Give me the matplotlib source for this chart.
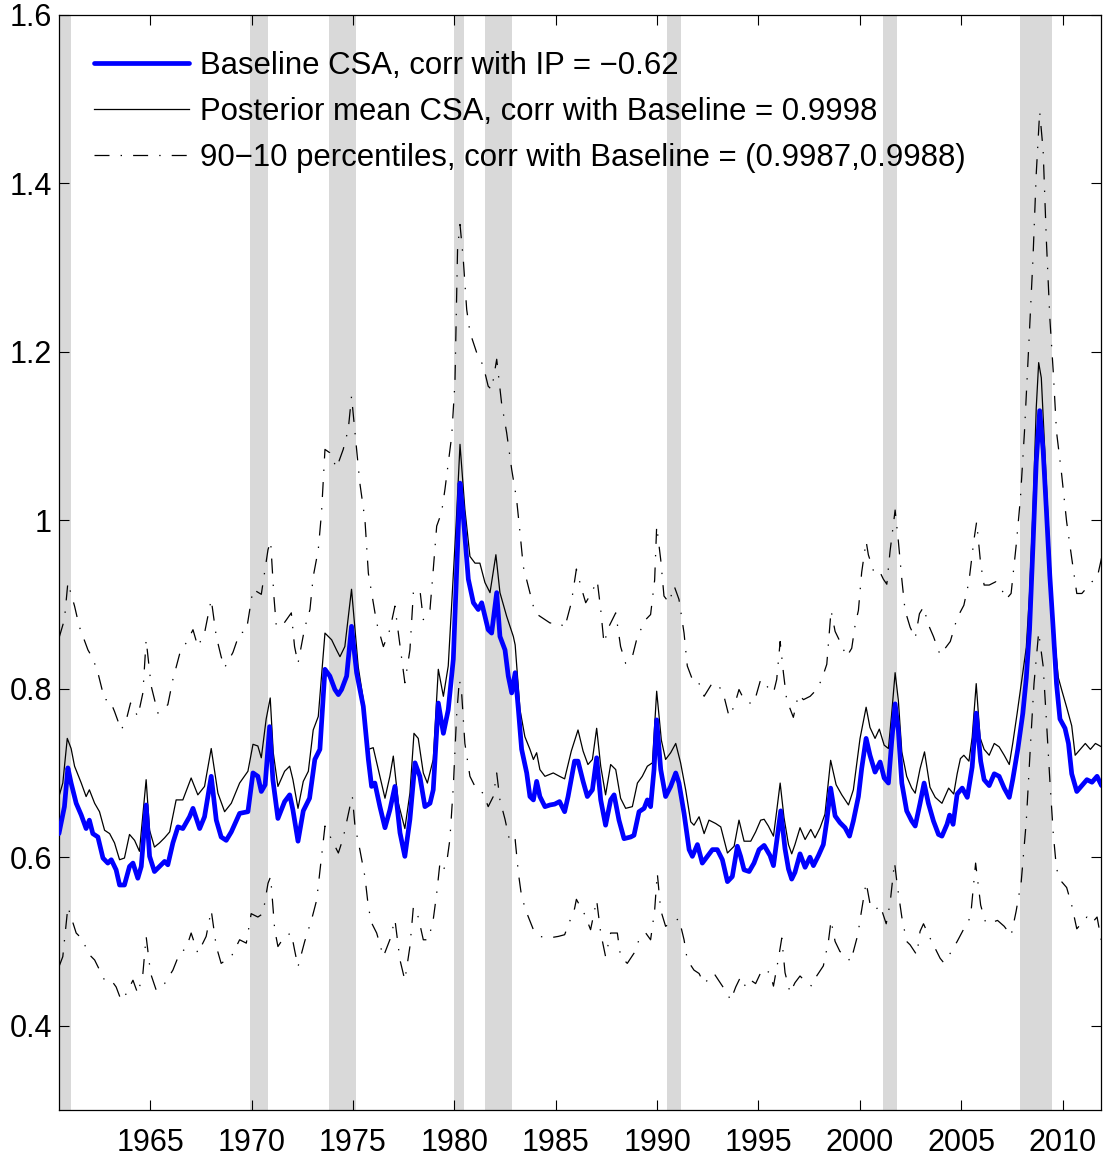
import matplotlib
matplotlib.use("Agg")
import matplotlib.pyplot as plt
from matplotlib.ticker import FuncFormatter

# ---------------- data ----------------
base_t = [1960.50, 1960.77, 1960.94, 1961.10, 1961.35, 1961.60, 1961.84, 1962.00, 1962.17, 1962.42,
          1962.67, 1962.91, 1963.08, 1963.32, 1963.49, 1963.73, 1963.98, 1964.15, 1964.39, 1964.56,
          1964.80, 1964.97, 1965.21, 1965.46, 1965.71, 1965.87, 1966.12, 1966.37, 1966.61, 1966.94,
          1967.11, 1967.44, 1967.68, 1968.01, 1968.26, 1968.50, 1968.75, 1969.00, 1969.41, 1969.82,
          1970.07, 1970.31, 1970.48, 1970.67, 1970.89, 1971.05, 1971.30, 1971.63, 1971.88, 1972.04,
          1972.29, 1972.55, 1972.86, 1973.12, 1973.37, 1973.62, 1973.86, 1974.11, 1974.28, 1974.44,
          1974.69, 1974.93, 1975.18, 1975.51, 1975.76, 1975.92, 1976.08, 1976.33, 1976.58, 1976.82,
          1977.07, 1977.32, 1977.56, 1977.81, 1978.06, 1978.30, 1978.55, 1978.80, 1978.96, 1979.21,
          1979.46, 1979.70, 1979.95, 1980.10, 1980.28, 1980.44, 1980.69, 1980.94, 1981.18, 1981.35,
          1981.51, 1981.67, 1981.84, 1982.09, 1982.25, 1982.50, 1982.66, 1982.83, 1983.00, 1983.16,
          1983.32, 1983.57, 1983.73, 1983.90, 1984.06, 1984.22, 1984.47, 1984.72, 1984.95, 1985.19,
          1985.44, 1985.61, 1985.93, 1986.10, 1986.35, 1986.56, 1986.81, 1987.02, 1987.22, 1987.46,
          1987.71, 1987.88, 1988.12, 1988.37, 1988.70, 1988.86, 1989.11, 1989.36, 1989.52, 1989.68,
          1989.85, 1989.98, 1990.18, 1990.42, 1990.67, 1990.92, 1991.08, 1991.33, 1991.58, 1991.74,
          1991.99, 1992.23, 1992.48, 1992.73, 1992.97, 1993.22, 1993.47, 1993.71, 1993.96, 1994.12,
          1994.29, 1994.54, 1994.78, 1995.03, 1995.28, 1995.57, 1995.74, 1995.90, 1996.10, 1996.31,
          1996.48, 1996.64, 1996.80, 1997.05, 1997.30, 1997.54, 1997.71, 1997.96, 1998.20, 1998.37,
          1998.56, 1998.78, 1999.02, 1999.27, 1999.49, 1999.68, 1999.93, 2000.09, 2000.31, 2000.50,
          2000.75, 2001.00, 2001.20, 2001.41, 2001.57, 2001.74, 2001.90, 2002.07, 2002.31, 2002.56,
          2002.73, 2002.97, 2003.17, 2003.38, 2003.63, 2003.88, 2004.05, 2004.30, 2004.43, 2004.60,
          2004.80, 2005.05, 2005.30, 2005.54, 2005.74, 2005.96, 2006.13, 2006.38, 2006.63, 2006.87,
          2007.12, 2007.37, 2007.54, 2007.79, 2008.04, 2008.21, 2008.37, 2008.54, 2008.70, 2008.87,
          2009.04, 2009.20, 2009.37, 2009.54, 2009.70, 2009.87, 2010.12, 2010.29, 2010.45, 2010.70,
          2010.95, 2011.20, 2011.45, 2011.70, 2011.92]
base_v = [0.628, 0.660, 0.706, 0.688, 0.664, 0.650, 0.634, 0.644, 0.628, 0.624,
          0.599, 0.593, 0.597, 0.585, 0.567, 0.567, 0.589, 0.593, 0.575, 0.589,
          0.662, 0.601, 0.583, 0.589, 0.595, 0.591, 0.617, 0.636, 0.634, 0.648,
          0.658, 0.634, 0.648, 0.696, 0.644, 0.624, 0.620, 0.630, 0.652, 0.654,
          0.700, 0.696, 0.678, 0.686, 0.755, 0.692, 0.646, 0.666, 0.674, 0.656,
          0.619, 0.655, 0.670, 0.716, 0.728, 0.823, 0.815, 0.799, 0.793, 0.799,
          0.815, 0.874, 0.819, 0.779, 0.716, 0.684, 0.688, 0.660, 0.635, 0.656,
          0.684, 0.629, 0.601, 0.645, 0.712, 0.696, 0.660, 0.664, 0.680, 0.783,
          0.747, 0.775, 0.835, 0.930, 1.044, 1.005, 0.930, 0.902, 0.894, 0.902,
          0.886, 0.870, 0.866, 0.914, 0.862, 0.846, 0.815, 0.795, 0.819, 0.775,
          0.728, 0.700, 0.672, 0.668, 0.690, 0.672, 0.660, 0.662, 0.663, 0.666,
          0.654, 0.672, 0.714, 0.714, 0.690, 0.672, 0.680, 0.718, 0.668, 0.638,
          0.668, 0.674, 0.644, 0.622, 0.624, 0.626, 0.654, 0.658, 0.668, 0.660,
          0.704, 0.763, 0.704, 0.672, 0.684, 0.700, 0.688, 0.652, 0.609, 0.601,
          0.615, 0.593, 0.601, 0.609, 0.609, 0.597, 0.571, 0.577, 0.613, 0.601,
          0.585, 0.583, 0.593, 0.609, 0.614, 0.602, 0.590, 0.619, 0.655, 0.610,
          0.586, 0.574, 0.582, 0.604, 0.588, 0.600, 0.590, 0.602, 0.615, 0.643,
          0.682, 0.649, 0.641, 0.635, 0.625, 0.643, 0.672, 0.705, 0.741, 0.721,
          0.701, 0.713, 0.694, 0.688, 0.737, 0.782, 0.750, 0.688, 0.655, 0.643,
          0.637, 0.664, 0.688, 0.664, 0.643, 0.627, 0.625, 0.639, 0.650, 0.639,
          0.675, 0.682, 0.671, 0.707, 0.771, 0.714, 0.692, 0.685, 0.699, 0.696,
          0.682, 0.671, 0.692, 0.728, 0.771, 0.813, 0.870, 0.970, 1.069, 1.130,
          1.083, 1.012, 0.934, 0.870, 0.806, 0.764, 0.753, 0.735, 0.699, 0.678,
          0.685, 0.692, 0.689, 0.696, 0.685]

mean_t = [1960.50, 1960.69, 1960.91, 1961.10, 1961.27, 1961.60, 1961.84, 1962.00, 1962.26, 1962.50,
          1962.75, 1963.00, 1963.24, 1963.49, 1963.73, 1963.98, 1964.23, 1964.47, 1964.80, 1964.97,
          1965.21, 1965.46, 1965.71, 1965.96, 1966.28, 1966.61, 1967.02, 1967.35, 1967.68, 1968.01,
          1968.34, 1968.67, 1969.00, 1969.41, 1969.82, 1970.07, 1970.31, 1970.48, 1970.72, 1970.92,
          1971.07, 1971.30, 1971.63, 1971.88, 1972.04, 1972.29, 1972.55, 1972.80, 1973.04, 1973.29,
          1973.62, 1973.95, 1974.19, 1974.36, 1974.60, 1974.93, 1975.26, 1975.51, 1975.76, 1976.00,
          1976.33, 1976.58, 1976.82, 1976.99, 1977.24, 1977.56, 1977.81, 1978.01, 1978.22, 1978.47,
          1978.67, 1978.96, 1979.21, 1979.46, 1979.70, 1979.87, 1980.10, 1980.28, 1980.52, 1980.77,
          1981.02, 1981.26, 1981.51, 1981.76, 1982.05, 1982.25, 1982.58, 1982.91, 1983.00, 1983.24,
          1983.48, 1983.73, 1983.90, 1984.06, 1984.22, 1984.47, 1984.88, 1985.19, 1985.44, 1985.77,
          1986.10, 1986.35, 1986.59, 1986.81, 1987.02, 1987.22, 1987.46, 1987.71, 1987.96, 1988.20,
          1988.45, 1988.78, 1989.03, 1989.27, 1989.52, 1989.77, 1989.98, 1990.21, 1990.42, 1990.67,
          1990.92, 1991.16, 1991.41, 1991.66, 1991.82, 1992.07, 1992.32, 1992.56, 1992.89, 1993.14,
          1993.47, 1993.80, 1994.04, 1994.29, 1994.62, 1994.86, 1995.11, 1995.28, 1995.49, 1995.74,
          1995.90, 1996.07, 1996.26, 1996.48, 1996.64, 1996.80, 1997.05, 1997.30, 1997.58, 1997.79,
          1998.04, 1998.28, 1998.56, 1998.83, 1999.11, 1999.44, 1999.68, 2000.01, 2000.31, 2000.50,
          2000.75, 2000.96, 2001.20, 2001.41, 2001.57, 2001.74, 2001.90, 2002.07, 2002.31, 2002.56,
          2002.73, 2002.97, 2003.19, 2003.46, 2003.72, 2004.05, 2004.38, 2004.63, 2004.80, 2004.96,
          2005.13, 2005.38, 2005.54, 2005.74, 2005.93, 2006.13, 2006.38, 2006.63, 2006.87, 2007.12,
          2007.37, 2007.54, 2007.76, 2007.96, 2008.21, 2008.37, 2008.54, 2008.70, 2008.82, 2008.95,
          2009.12, 2009.29, 2009.45, 2009.62, 2009.79, 2009.95, 2010.20, 2010.45, 2010.62, 2010.87,
          2011.12, 2011.37, 2011.62, 2011.92]
mean_v = [0.672, 0.688, 0.741, 0.729, 0.708, 0.688, 0.672, 0.680, 0.664, 0.654,
          0.632, 0.628, 0.617, 0.597, 0.599, 0.627, 0.620, 0.607, 0.692, 0.632,
          0.612, 0.617, 0.623, 0.630, 0.668, 0.668, 0.694, 0.674, 0.684, 0.729,
          0.676, 0.654, 0.664, 0.688, 0.702, 0.734, 0.732, 0.718, 0.764, 0.789,
          0.724, 0.684, 0.702, 0.708, 0.692, 0.658, 0.690, 0.702, 0.751, 0.767,
          0.866, 0.858, 0.846, 0.838, 0.850, 0.918, 0.826, 0.787, 0.728, 0.730,
          0.696, 0.670, 0.696, 0.720, 0.664, 0.634, 0.676, 0.747, 0.741, 0.700,
          0.688, 0.716, 0.823, 0.791, 0.827, 0.900, 1.000, 1.090, 1.013, 0.957,
          0.949, 0.949, 0.926, 0.914, 0.959, 0.914, 0.886, 0.862, 0.852, 0.775,
          0.743, 0.728, 0.716, 0.724, 0.704, 0.696, 0.700, 0.696, 0.693, 0.726,
          0.751, 0.726, 0.710, 0.716, 0.753, 0.708, 0.674, 0.710, 0.704, 0.670,
          0.658, 0.660, 0.688, 0.696, 0.708, 0.712, 0.797, 0.739, 0.716, 0.724,
          0.735, 0.712, 0.680, 0.642, 0.638, 0.648, 0.628, 0.644, 0.640, 0.636,
          0.605, 0.613, 0.644, 0.619, 0.619, 0.630, 0.644, 0.645, 0.637, 0.625,
          0.655, 0.688, 0.647, 0.615, 0.604, 0.615, 0.635, 0.621, 0.633, 0.623,
          0.635, 0.651, 0.715, 0.686, 0.674, 0.662, 0.680, 0.741, 0.778, 0.754,
          0.741, 0.752, 0.733, 0.729, 0.770, 0.819, 0.786, 0.725, 0.696, 0.682,
          0.676, 0.705, 0.725, 0.683, 0.671, 0.664, 0.682, 0.675, 0.699, 0.717,
          0.721, 0.714, 0.742, 0.806, 0.742, 0.728, 0.721, 0.735, 0.731, 0.721,
          0.710, 0.735, 0.771, 0.806, 0.849, 0.913, 1.012, 1.133, 1.187, 1.169,
          1.083, 0.998, 0.920, 0.856, 0.813, 0.799, 0.778, 0.756, 0.721, 0.728,
          0.735, 0.728, 0.735, 0.731]

p90_t = [1960.50, 1960.77, 1960.94, 1961.27, 1961.50, 1961.93, 1962.17, 1962.42, 1962.75, 1963.00,
         1963.24, 1963.57, 1963.82, 1964.03, 1964.39, 1964.64, 1964.80, 1965.05, 1965.38, 1965.87,
         1966.12, 1966.45, 1966.86, 1967.11, 1967.35, 1967.68, 1968.01, 1968.26, 1968.50, 1968.67,
         1969.08, 1969.41, 1969.74, 1970.07, 1970.48, 1970.81, 1970.94, 1971.10, 1971.22, 1971.55,
         1971.96, 1972.12, 1972.29, 1972.62, 1972.88, 1973.04, 1973.29, 1973.45, 1973.62, 1973.86,
         1974.19, 1974.52, 1974.77, 1974.93, 1975.10, 1975.34, 1975.59, 1975.76, 1975.92, 1976.17,
         1976.50, 1976.82, 1977.07, 1977.24, 1977.56, 1977.81, 1977.98, 1978.30, 1978.47, 1978.80,
         1978.96, 1979.13, 1979.37, 1979.54, 1979.87, 1980.03, 1980.16, 1980.28, 1980.44, 1980.61,
         1980.77, 1981.10, 1981.43, 1981.67, 1981.84, 1982.09, 1982.33, 1982.58, 1982.83, 1983.07,
         1983.24, 1983.40, 1983.73, 1983.98, 1984.22, 1984.72, 1985.21, 1985.44, 1985.77, 1986.02,
         1986.26, 1986.48, 1986.72, 1987.05, 1987.22, 1987.38, 1987.63, 1987.96, 1988.20, 1988.45,
         1988.78, 1989.03, 1989.44, 1989.68, 1989.88, 1989.98, 1990.18, 1990.34, 1990.59, 1990.84,
         1991.08, 1991.33, 1991.49, 1991.74, 1991.99, 1992.32, 1992.73, 1993.06, 1993.30, 1993.55,
         1993.80, 1994.04, 1994.29, 1994.54, 1994.78, 1995.11, 1995.41, 1995.74, 1995.90, 1996.07,
         1996.23, 1996.39, 1996.72, 1996.97, 1997.22, 1997.55, 1997.87, 1998.12, 1998.37, 1998.58,
         1998.78, 1999.02, 1999.35, 1999.60, 1999.77, 1999.93, 2000.09, 2000.31, 2000.42, 2000.67,
         2000.92, 2001.16, 2001.33, 2001.49, 2001.74, 2001.90, 2002.07, 2002.23, 2002.48, 2002.73,
         2002.94, 2003.14, 2003.38, 2003.63, 2003.96, 2004.46, 2004.80, 2005.13, 2005.38, 2005.63,
         2005.76, 2005.96, 2006.13, 2006.38, 2006.71, 2006.96, 2007.21, 2007.46, 2007.71, 2007.92,
         2008.12, 2008.37, 2008.54, 2008.70, 2008.87, 2009.04, 2009.20, 2009.37, 2009.54, 2009.70,
         2009.95, 2010.20, 2010.45, 2010.70, 2010.95, 2011.20, 2011.45, 2011.70, 2011.92]
p90_v = [0.860, 0.882, 0.926, 0.898, 0.874, 0.846, 0.836, 0.819, 0.787, 0.787,
         0.773, 0.751, 0.763, 0.783, 0.767, 0.795, 0.858, 0.803, 0.771, 0.781,
         0.811, 0.841, 0.858, 0.870, 0.850, 0.866, 0.906, 0.862, 0.838, 0.825,
         0.843, 0.866, 0.868, 0.918, 0.912, 0.965, 0.975, 0.910, 0.874, 0.876,
         0.890, 0.850, 0.830, 0.872, 0.894, 0.933, 0.965, 1.009, 1.084, 1.080,
         1.062, 1.084, 1.108, 1.147, 1.104, 1.044, 1.001, 0.937, 0.914, 0.878,
         0.850, 0.870, 0.898, 0.866, 0.807, 0.846, 0.914, 0.918, 0.882, 0.894,
         0.941, 0.993, 1.009, 1.037, 1.100, 1.163, 1.322, 1.351, 1.310, 1.250,
         1.223, 1.199, 1.183, 1.159, 1.155, 1.191, 1.139, 1.104, 1.060, 1.025,
         0.985, 0.945, 0.914, 0.890, 0.886, 0.878, 0.878, 0.872, 0.902, 0.942,
         0.920, 0.902, 0.912, 0.928, 0.894, 0.854, 0.874, 0.890, 0.850, 0.830,
         0.838, 0.862, 0.882, 0.888, 0.929, 0.993, 0.953, 0.910, 0.902, 0.922,
         0.906, 0.866, 0.827, 0.811, 0.811, 0.791, 0.807, 0.803, 0.791, 0.767,
         0.779, 0.799, 0.787, 0.783, 0.783, 0.811, 0.803, 0.795, 0.811, 0.856,
         0.819, 0.787, 0.766, 0.793, 0.787, 0.791, 0.799, 0.811, 0.829, 0.893,
         0.868, 0.856, 0.838, 0.848, 0.876, 0.893, 0.938, 0.975, 0.959, 0.940,
         0.942, 0.930, 0.924, 0.963, 1.012, 0.975, 0.930, 0.893, 0.873, 0.860,
         0.889, 0.897, 0.876, 0.862, 0.840, 0.856, 0.884, 0.899, 0.927, 0.977,
         0.998, 0.948, 0.923, 0.923, 0.927, 0.920, 0.906, 0.913, 0.970, 1.026,
         1.105, 1.226, 1.311, 1.411, 1.485, 1.439, 1.332, 1.240, 1.176, 1.105,
         1.055, 0.998, 0.955, 0.913, 0.913, 0.920, 0.927, 0.931, 0.955]

p10_t = [1960.50, 1960.69, 1960.94, 1961.10, 1961.35, 1961.68, 1961.93, 1962.26, 1962.75, 1963.08,
         1963.32, 1963.57, 1963.82, 1964.15, 1964.39, 1964.64, 1964.80, 1965.02, 1965.30, 1965.71,
         1966.12, 1966.45, 1966.78, 1967.02, 1967.35, 1967.76, 1968.01, 1968.26, 1968.50, 1969.00,
         1969.41, 1969.74, 1969.98, 1970.31, 1970.56, 1970.81, 1970.94, 1971.14, 1971.30, 1971.63,
         1971.96, 1972.12, 1972.29, 1972.62, 1972.96, 1973.21, 1973.45, 1973.62, 1973.95, 1974.28,
         1974.52, 1974.85, 1974.97, 1975.10, 1975.34, 1975.59, 1975.76, 1975.92, 1976.17, 1976.50,
         1976.82, 1977.07, 1977.32, 1977.56, 1977.81, 1977.98, 1978.22, 1978.47, 1978.72, 1978.96,
         1979.13, 1979.29, 1979.46, 1979.62, 1979.78, 1979.95, 1980.11, 1980.25, 1980.36, 1980.52,
         1980.77, 1981.10, 1981.43, 1981.67, 1981.92, 1982.09, 1982.25, 1982.50, 1982.75, 1983.00,
         1983.16, 1983.32, 1983.57, 1983.90, 1984.22, 1984.64, 1985.13, 1985.44, 1985.93, 1986.02,
         1986.43, 1986.72, 1987.02, 1987.22, 1987.46, 1987.71, 1988.04, 1988.20, 1988.53, 1988.86,
         1989.11, 1989.44, 1989.68, 1989.88, 1990.01, 1990.18, 1990.42, 1990.67, 1991.08, 1991.33,
         1991.49, 1991.82, 1992.07, 1992.32, 1992.81, 1993.14, 1993.47, 1993.63, 1993.88, 1994.12,
         1994.37, 1994.62, 1994.86, 1995.19, 1995.57, 1995.74, 1995.98, 1996.15, 1996.31, 1996.56,
         1996.80, 1997.05, 1997.38, 1997.63, 1997.87, 1998.20, 1998.45, 1998.58, 1998.78, 1999.02,
         1999.35, 1999.52, 1999.68, 1999.90, 2000.06, 2000.31, 2000.50, 2000.75, 2001.00, 2001.30,
         2001.49, 2001.71, 2001.85, 2002.07, 2002.31, 2002.48, 2002.81, 2002.97, 2003.14, 2003.38,
         2003.63, 2003.96, 2004.13, 2004.46, 2004.80, 2005.13, 2005.46, 2005.71, 2005.96, 2006.21,
         2006.46, 2006.79, 2007.12, 2007.46, 2007.71, 2007.96, 2008.21, 2008.42, 2008.59, 2008.82,
         2009.04, 2009.20, 2009.37, 2009.54, 2009.70, 2009.95, 2010.20, 2010.45, 2010.70, 2010.95,
         2011.20, 2011.45, 2011.70, 2011.92]
p10_v = [0.470, 0.482, 0.541, 0.529, 0.510, 0.502, 0.486, 0.478, 0.454, 0.454,
         0.446, 0.430, 0.438, 0.454, 0.438, 0.462, 0.506, 0.462, 0.442, 0.450,
         0.466, 0.486, 0.492, 0.510, 0.486, 0.506, 0.537, 0.494, 0.474, 0.482,
         0.502, 0.498, 0.533, 0.529, 0.533, 0.569, 0.577, 0.514, 0.494, 0.506,
         0.510, 0.490, 0.470, 0.500, 0.526, 0.549, 0.601, 0.637, 0.621, 0.605,
         0.623, 0.660, 0.672, 0.637, 0.609, 0.577, 0.541, 0.522, 0.510, 0.482,
         0.502, 0.526, 0.478, 0.454, 0.494, 0.541, 0.529, 0.502, 0.502, 0.526,
         0.557, 0.593, 0.585, 0.593, 0.621, 0.684, 0.767, 0.811, 0.795, 0.735,
         0.696, 0.680, 0.676, 0.660, 0.672, 0.700, 0.668, 0.645, 0.617, 0.621,
         0.581, 0.553, 0.534, 0.514, 0.506, 0.504, 0.506, 0.508, 0.539, 0.550,
         0.532, 0.514, 0.549, 0.510, 0.482, 0.510, 0.510, 0.482, 0.474, 0.486,
         0.502, 0.510, 0.502, 0.537, 0.581, 0.537, 0.518, 0.522, 0.527, 0.502,
         0.478, 0.466, 0.462, 0.450, 0.462, 0.450, 0.438, 0.430, 0.446, 0.458,
         0.446, 0.454, 0.450, 0.467, 0.463, 0.447, 0.479, 0.504, 0.463, 0.439,
         0.451, 0.459, 0.451, 0.447, 0.459, 0.471, 0.500, 0.525, 0.500, 0.488,
         0.484, 0.476, 0.488, 0.508, 0.533, 0.570, 0.545, 0.537, 0.543, 0.521,
         0.545, 0.594, 0.566, 0.529, 0.500, 0.496, 0.484, 0.512, 0.521, 0.508,
         0.496, 0.480, 0.475, 0.486, 0.500, 0.515, 0.529, 0.593, 0.543, 0.522,
         0.522, 0.525, 0.518, 0.507, 0.536, 0.571, 0.643, 0.735, 0.806, 0.867,
         0.827, 0.763, 0.692, 0.628, 0.586, 0.571, 0.564, 0.543, 0.515, 0.522,
         0.529, 0.522, 0.529, 0.500]

# NBER recessions (start, end) in decimal years
rec_start = [1960.25, 1969.917, 1973.833, 1980.0, 1981.5, 1990.5, 2001.167, 2007.917]
rec_end = [1961.083, 1970.833, 1975.167, 1980.5, 1982.833, 1991.167, 2001.833, 2009.5]

xticks = [1965, 1970, 1975, 1980, 1985, 1990, 1995, 2000, 2005, 2010]
yticks = [0.4, 0.6, 0.8, 1.0, 1.2, 1.4, 1.6]

labels = ["Baseline CSA, corr with IP = \u22120.62",
          "Posterior mean CSA, corr with Baseline = 0.9998",
          "90\u221210 percentiles, corr with Baseline = (0.9987,0.9988)"]

# ---------------- plot ----------------
plt.rcParams['font.family'] = ['Liberation Sans', 'DejaVu Sans']
plt.rcParams['lines.scale_dashes'] = False

fig = plt.figure(figsize=(11.04, 11.63), dpi=100)
ax = fig.add_axes([0.0534, 0.0456, 0.9443, 0.9418])

for s, e in zip(rec_start, rec_end):
    ax.axvspan(s, e, facecolor=(0.85, 0.85, 0.85), edgecolor='none', zorder=0)

dashdot = (0, (10.8, 8.0, 1.0, 8.0))
l1, = ax.plot(base_t, base_v, color=(0, 0, 1), lw=3.4, zorder=4,
              solid_joinstyle='round', solid_capstyle='round')
l2, = ax.plot(mean_t, mean_v, color='black', lw=0.9, zorder=3)
l3, = ax.plot(p90_t, p90_v, color='black', lw=0.9, linestyle=dashdot, zorder=3)
ax.plot(p10_t, p10_v, color='black', lw=0.9, linestyle=dashdot, zorder=3)

ax.set_xlim(1960.5, 2011.917)
ax.set_ylim(0.3, 1.6)
ax.set_xticks(xticks)
ax.set_yticks(yticks)
ax.yaxis.set_major_formatter(FuncFormatter(lambda v, p: '%g' % v))
ax.tick_params(direction='in', length=7.5, width=0.8, top=True, right=True,
               labelsize=22)
ax.tick_params(axis='x', pad=13)
ax.tick_params(axis='y', pad=5)
for sp in ax.spines.values():
    sp.set_linewidth(0.9)

leg = ax.legend([l1, l2, l3], labels, loc='upper left', frameon=False,
                fontsize=22.4, handlelength=3.05, handletextpad=0.33,
                labelspacing=0.52, borderpad=0, borderaxespad=0,
                bbox_to_anchor=(0.034, 0.967))

fig.savefig('out.png', dpi=100)
